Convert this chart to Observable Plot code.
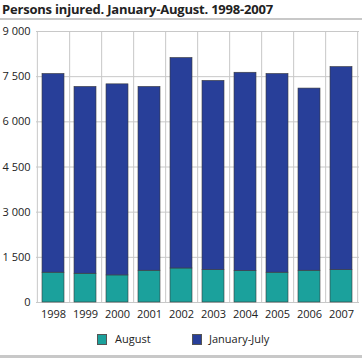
<!DOCTYPE html>
<html><head><meta charset="utf-8">
<script src="https://cdn.jsdelivr.net/npm/d3@7"></script>
<script src="https://cdn.jsdelivr.net/npm/@observablehq/plot@0.6"></script>
<style>
body{margin:0;background:#fff;font-family:"Open Sans",sans-serif;}
#wrap{width:362px;height:358px;position:relative;overflow:hidden;}
#title{position:absolute;left:2px;top:0px;font-size:13px;font-weight:bold;color:#222;letter-spacing:-0.2px;}
#rule1{position:absolute;left:0;top:18px;width:362px;height:2px;background:#c8c8c8;}
#chart{position:absolute;left:0;top:21px;}
#legend{position:absolute;top:332px;left:0;width:362px;font-size:11px;color:#222;}
.sw{position:absolute;width:10px;height:11px;border:1px solid #555;box-sizing:border-box;}
.lb{position:absolute;top:-1px;}
#rule2{position:absolute;left:0;top:355px;width:362px;height:3px;background:#c8c8c8;}
</style></head>
<body><div id="wrap">
<div id="title">Persons injured. January-August. 1998-2007</div>
<div id="rule1"></div>
<div id="chart"></div>
<div id="legend">
<div class="sw" style="left:97px;top:2px;background:#1ba19c"></div><div class="lb" style="left:115px">August</div>
<div class="sw" style="left:192px;top:2px;background:#283f99"></div><div class="lb" style="left:209px">January-July</div>
</div>
<div id="rule2"></div>
</div>
<script>
const years = ["1998","1999","2000","2001","2002","2003","2004","2005","2006","2007"];
const august = [990, 955, 900, 1055, 1130, 1075, 1045, 990, 1055, 1075];
const janJuly = [6600, 6205, 6345, 6105, 6990, 6285, 6585, 6600, 6050, 6745];
const seriesNames = ["August", "January-July"];
const yTicks = [0, 1500, 3000, 4500, 6000, 7500, 9000];

const data = [];
years.forEach((y, i) => {
  data.push({year: y, series: seriesNames[0], value: august[i]});
  data.push({year: y, series: seriesNames[1], value: janJuly[i]});
});
const mL = 36, mR = 3, W = 362;
const step = (W - mL - mR) / years.length;
const fmt = d => d3.format(",")(d).replace(/,/g, "\u00a0");

const chart = Plot.plot({
  width: W, height: 303,
  marginLeft: mL, marginRight: mR, marginTop: 10, marginBottom: 22,
  style: {fontFamily: "'Open Sans', sans-serif", fontSize: "11px", color: "#222"},
  x: {domain: years, paddingInner: 0.3, paddingOuter: 0.15, label: null, tickSize: 0, tickPadding: 4},
  y: {domain: [0, 9000], ticks: yTicks, tickFormat: fmt, label: null, tickSize: 0, tickPadding: 6},
  color: {domain: seriesNames, range: ["#1ba19c", "#283f99"]},
  marks: [
    Plot.gridY(yTicks, {stroke: "#c8c8c8", strokeOpacity: 1, strokeWidth: 1}),
    Plot.ruleX(years, {dx: step / 2, stroke: "#c8c8c8", strokeWidth: 1}),
    Plot.ruleX([years[0]], {dx: -step / 2, stroke: "#c8c8c8", strokeWidth: 1}),
    Plot.barY(data, Plot.stackY({x: "year", y: "value", fill: "series", stroke: "#3a3a3a", strokeWidth: 0.6, order: seriesNames})),
    Plot.axisX({tickSize: 0, tickPadding: 8}),
    Plot.axisY({ticks: yTicks, tickFormat: fmt, tickSize: 0, tickPadding: 6})
  ]
});
document.getElementById("chart").appendChild(chart);
</script>
</body></html>
